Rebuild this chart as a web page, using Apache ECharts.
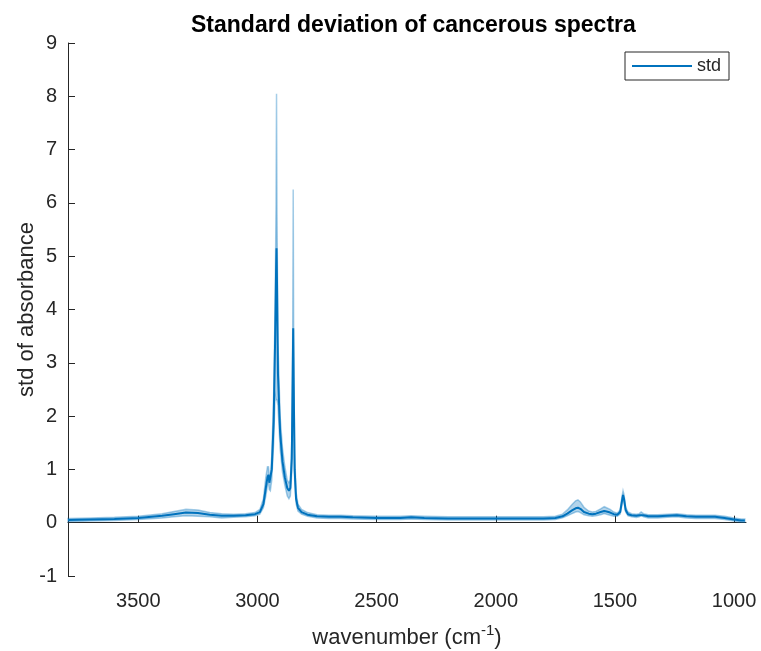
<!DOCTYPE html>
<html>
<head>
<meta charset="utf-8">
<script src="https://cdn.jsdelivr.net/npm/echarts@6/dist/echarts.min.js"></script>
<style>html,body{margin:0;padding:0;background:#fff}#c{width:761px;height:651px}</style>
</head>
<body>
<div id="c"></div>
<script>
// Wavenumbers (cm^-1)
var wavenumbers = [3795,3700,3600,3500,3400,3350,3300,3250,3200,3150,3100,3050,3010,2990,2975,2965,2958,2954,2950,2946,2940,2932,2926,2922,2920,2918,2914,2905,2895,2885,2875,2868,2862,2856,2852,2850,2848,2844,2838,2830,2815,2790,2750,2700,2650,2600,2500,2400,2355,2300,2200,2100,2000,1900,1800,1750,1720,1700,1680,1665,1655,1645,1630,1610,1595,1580,1560,1545,1535,1520,1505,1490,1478,1470,1466,1462,1455,1445,1430,1410,1398,1390,1380,1360,1320,1280,1240,1200,1160,1120,1080,1040,1000,970,955];
// std line
var stdValues = [0.05,0.06,0.07,0.09,0.13,0.16,0.19,0.18,0.15,0.13,0.13,0.14,0.16,0.20,0.35,0.65,0.85,0.90,0.75,0.72,1.00,1.90,3.40,4.70,5.15,4.50,2.80,1.70,1.15,0.85,0.65,0.60,0.65,1.20,2.80,3.65,2.60,1.00,0.45,0.28,0.20,0.15,0.12,0.11,0.11,0.10,0.09,0.09,0.10,0.09,0.08,0.08,0.08,0.08,0.08,0.09,0.12,0.17,0.23,0.27,0.28,0.26,0.20,0.17,0.16,0.17,0.20,0.22,0.21,0.19,0.16,0.15,0.20,0.42,0.52,0.45,0.24,0.16,0.14,0.13,0.14,0.17,0.14,0.12,0.12,0.13,0.14,0.12,0.11,0.11,0.11,0.09,0.06,0.04,0.04];
// shaded band upper edge
var bandUpper = [0.08,0.09,0.10,0.12,0.17,0.21,0.25,0.24,0.19,0.17,0.16,0.17,0.19,0.25,0.45,0.85,1.05,1.05,0.88,0.85,1.25,2.40,4.00,6.00,8.05,5.80,3.40,2.00,1.40,1.05,0.80,0.75,0.80,1.50,3.60,6.25,3.40,1.30,0.58,0.35,0.25,0.19,0.15,0.14,0.14,0.13,0.12,0.12,0.13,0.12,0.11,0.11,0.11,0.11,0.11,0.12,0.16,0.24,0.34,0.41,0.43,0.39,0.29,0.22,0.20,0.21,0.26,0.30,0.28,0.25,0.20,0.18,0.24,0.50,0.60,0.53,0.29,0.20,0.17,0.16,0.17,0.20,0.17,0.15,0.15,0.16,0.17,0.15,0.14,0.14,0.14,0.12,0.09,0.07,0.07];
// shaded band lower edge
var bandLower = [0.02,0.03,0.04,0.06,0.09,0.11,0.13,0.12,0.11,0.09,0.10,0.11,0.13,0.16,0.28,0.50,0.70,0.75,0.62,0.60,0.80,1.50,2.40,2.30,2.30,2.30,2.20,1.40,0.95,0.70,0.50,0.45,0.50,0.95,2.10,2.00,1.90,0.80,0.36,0.22,0.16,0.12,0.09,0.08,0.08,0.07,0.06,0.06,0.07,0.06,0.05,0.05,0.05,0.05,0.05,0.06,0.09,0.13,0.17,0.20,0.21,0.19,0.15,0.13,0.12,0.13,0.15,0.17,0.16,0.14,0.12,0.12,0.16,0.35,0.46,0.39,0.20,0.13,0.11,0.10,0.11,0.14,0.11,0.09,0.09,0.10,0.11,0.09,0.08,0.08,0.08,0.06,0.03,0.01,0.01];
var xTicks = [1000,1500,2000,2500,3000,3500];

var FONT = 'Liberation Sans, Arial, Helvetica, sans-serif';
var TXT = '#262626';

var lineData = wavenumbers.map(function (w, i) { return [w, stdValues[i]]; });
var bandData = wavenumbers.map(function (w, i) { return [w, bandLower[i], bandUpper[i]]; });

var chart = echarts.init(document.getElementById('c'), null, { renderer: 'canvas' });
chart.setOption({
  animation: false,
  backgroundColor: '#fff',
  title: {
    text: 'Standard deviation of cancerous spectra',
    left: 186, top: 9,
    textStyle: { fontFamily: FONT, fontSize: 23, fontWeight: 'bold', color: '#000' }
  },
  legend: {
    data: [{ name: 'std', icon: 'rect', itemStyle: { color: '#0072BD' } }],
    left: 625, top: 52,
    padding: [5, 8, 5, 7],
    itemWidth: 60, itemHeight: 2, itemGap: 5,
    backgroundColor: '#fff',
    borderColor: TXT, borderWidth: 1,
    textStyle: { fontFamily: FONT, fontSize: 18, color: TXT, padding: [0, 0, 0, 0] }
  },
  grid: { left: 68, right: 15, top: 43, bottom: 75, containLabel: false, outerBoundsMode: 'none' },
  xAxis: {
    type: 'value', inverse: true, min: 950, max: 3795,
    name: '{a|wavenumber (cm}{s|-1}{a|)}',
    nameLocation: 'middle', nameGap: 47, nameMoveOverlap: false,
    nameTextStyle: {
      rich: {
        a: { fontFamily: FONT, fontSize: 22, color: TXT, lineHeight: 26, verticalAlign: 'bottom' },
        s: { fontFamily: FONT, fontSize: 15, color: TXT, lineHeight: 26, verticalAlign: 'top', padding: [0, 0, 10, 0] }
      }
    },
    axisLine: { show: true, lineStyle: { color: TXT, width: 1 } },
    axisTick: { show: true, inside: true, length: 7, lineStyle: { color: TXT }, customValues: xTicks },
    axisLabel: { fontFamily: FONT, fontSize: 20, color: TXT, margin: 15, customValues: xTicks, formatter: function (v) { return String(v); } },
    splitLine: { show: false }
  },
  yAxis: {
    type: 'value', min: -1, max: 9, interval: 1,
    name: 'std of absorbance', nameLocation: 'middle', nameGap: 30, nameMoveOverlap: false,
    nameTextStyle: { fontFamily: FONT, fontSize: 22, color: TXT },
    axisLine: { show: true, lineStyle: { color: TXT, width: 1 } },
    axisTick: { show: true, inside: true, length: 7, lineStyle: { color: TXT } },
    axisLabel: { fontFamily: FONT, fontSize: 20, color: TXT, margin: 11 },
    splitLine: { show: false }
  },
  series: [
    {
      name: 'band', type: 'custom', silent: true, z: 1,
      data: [0],
      renderItem: function (params, api) {
        var up = [], lo = [];
        for (var i = 0; i < bandData.length; i++) {
          up.push(api.coord([bandData[i][0], bandData[i][2]]));
          lo.push(api.coord([bandData[i][0], bandData[i][1]]));
        }
        var pts = up.concat(lo.slice().reverse());
        return {
          type: 'group',
          children: [
            { type: 'polygon', shape: { points: pts }, style: { fill: 'rgba(0,114,189,0.30)', stroke: 'rgba(0,114,189,0.35)', lineWidth: 1.5 } }
          ]
        };
      }
    },
    {
      name: 'std', type: 'line', data: lineData, showSymbol: false, symbol: 'none', z: 3,
      lineStyle: { color: '#0072BD', width: 2 }, itemStyle: { color: '#0072BD' }
    }
  ]
});
</script>
</body>
</html>
